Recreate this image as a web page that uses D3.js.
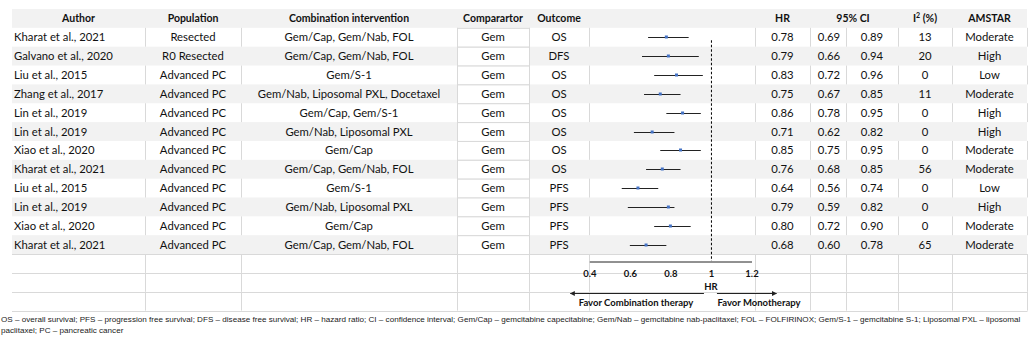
<!DOCTYPE html>
<html>
<head>
<meta charset="utf-8">
<script src="https://cdn.jsdelivr.net/npm/d3@7"></script>
<style>
  body { margin: 0; background: #fff; }
  svg { display: block; }
</style>
</head>
<body>
<script>
// Forest plot table: combination therapy vs gemcitabine monotherapy

const authors = ["Kharat et al., 2021", "Galvano et al., 2020", "Liu et al., 2015", "Zhang et al., 2017",
  "Lin et al., 2019", "Lin et al., 2019", "Xiao et al., 2020", "Kharat et al., 2021",
  "Liu et al., 2015", "Lin et al., 2019", "Xiao et al., 2020", "Kharat et al., 2021"];
const populations = ["Resected", "R0 Resected", "Advanced PC", "Advanced PC", "Advanced PC", "Advanced PC",
  "Advanced PC", "Advanced PC", "Advanced PC", "Advanced PC", "Advanced PC", "Advanced PC"];
const interventions = ["Gem/Cap, Gem/Nab, FOL", "Gem/Cap, Gem/Nab, FOL", "Gem/S-1", "Gem/Nab, Liposomal PXL, Docetaxel",
  "Gem/Cap, Gem/S-1", "Gem/Nab, Liposomal PXL", "Gem/Cap", "Gem/Cap, Gem/Nab, FOL",
  "Gem/S-1", "Gem/Nab, Liposomal PXL", "Gem/Cap", "Gem/Cap, Gem/Nab, FOL"];
const comparators = ["Gem", "Gem", "Gem", "Gem", "Gem", "Gem", "Gem", "Gem", "Gem", "Gem", "Gem", "Gem"];
const outcomes = ["OS", "DFS", "OS", "OS", "OS", "OS", "OS", "OS", "PFS", "PFS", "PFS", "PFS"];
const hr = [0.78, 0.79, 0.83, 0.75, 0.86, 0.71, 0.85, 0.76, 0.64, 0.79, 0.80, 0.68];
const ciLow = [0.69, 0.66, 0.72, 0.67, 0.78, 0.62, 0.75, 0.68, 0.56, 0.59, 0.72, 0.60];
const ciHigh = [0.89, 0.94, 0.96, 0.85, 0.95, 0.82, 0.95, 0.85, 0.74, 0.82, 0.90, 0.78];
const i2 = [13, 20, 0, 11, 0, 0, 0, 56, 0, 0, 0, 65];
const amstar = ["Moderate", "High", "Low", "Moderate", "High", "High", "Moderate", "Moderate",
  "Low", "High", "Moderate", "Moderate"];
const hrTicks = [0.4, 0.6, 0.8, 1, 1.2];

const footnote = [
  "OS \u2013 overall survival; PFS \u2013 progression free survival; DFS \u2013 disease free survival; HR \u2013 hazard ratio; CI \u2013 confidence interval; Gem/Cap \u2013 gemcitabine capecitabine; Gem/Nab \u2013 gemcitabine nab-paclitaxel; FOL \u2013 FOLFIRINOX; Gem/S-1 \u2013 gemcitabine S-1; Liposomal PXL \u2013 liposomal",
  "paclitaxel; PC \u2013 pancreatic cancer"
];

const W = 1034, H = 338;
const FONT = "Lato, 'Open Sans', sans-serif";
const grey = "#f2f2f2", grid = "#d9d9d9", ink = "#111";

// column edges
const edges = [12, 145, 241, 457, 529, 589, 755, 810, 846, 898, 952, 1027];
const mid = i => (edges[i] + edges[i + 1]) / 2;

const svg = d3.select("body").append("svg")
  .attr("width", W).attr("height", H)
  .style("font-family", FONT);

// header + 12 data rows + 3 rows for the axis
const rows = d3.range(16);
const y = d3.scaleBand().domain(rows).range([9, 9 + 16 * 18.85]).padding(0);
const rowMid = r => y(r) + y.bandwidth() / 2;

const x = d3.scaleLinear().domain([0.4, 1.2]).range([edges[5] + 0.3, 751.5]);

const isGrey = r => r === 0 || (r >= 1 && r <= 12 && r % 2 === 0);

// row backgrounds
svg.append("g").selectAll("rect")
  .data(rows.filter(isGrey))
  .join("rect")
    .attr("x", edges[0]).attr("y", d => y(d))
    .attr("width", edges[edges.length - 1] - edges[0]).attr("height", y.bandwidth())
    .attr("fill", grey);

// gridlines in white rows
const gridG = svg.append("g").attr("stroke", grid).attr("stroke-width", 1);
rows.filter(r => !isGrey(r)).forEach(r => {
  gridG.selectAll(null)
    .data(edges.slice(1))
    .join("line")
      .attr("x1", d => d + 0.5).attr("x2", d => d + 0.5)
      .attr("y1", y(r)).attr("y2", y(r) + y.bandwidth());
});
[13, 14, 15, 16].forEach(r => {
  const yy = Math.round(y(r) || y(15) + y.bandwidth()) + 0.5;
  gridG.append("line")
    .attr("x1", edges[0]).attr("x2", edges[edges.length - 1] + 0.5)
    .attr("y1", yy).attr("y2", yy);
});

// comparator column stays white with borders
const dataRows = d3.range(1, 13);
svg.append("g").selectAll("rect")
  .data(dataRows)
  .join("rect")
    .attr("x", edges[3] + 0.5).attr("y", d => y(d) + 0.5)
    .attr("width", edges[4] - edges[3]).attr("height", y.bandwidth())
    .attr("fill", "#fff").attr("stroke", grid);

// header labels
const headers = [
  { t: "Author", x: mid(0) }, { t: "Population", x: mid(1) },
  { t: "Combination intervention", x: mid(2) }, { t: "Comparartor", x: mid(3) },
  { t: "Outcome", x: mid(4) }, { t: "HR", x: mid(6) },
  { t: "95% CI", x: edges[8] + 7 }, { t: "AMSTAR", x: mid(10) }
];
const head = svg.append("g")
  .attr("font-size", 10.5).attr("font-weight", "bold").attr("fill", ink)
  .attr("text-anchor", "middle");
head.selectAll("text").data(headers).join("text")
  .attr("x", d => d.x).attr("y", rowMid(0) + 4).text(d => d.t);
const i2Head = head.append("text").attr("x", mid(9)).attr("y", rowMid(0) + 4);
i2Head.append("tspan").text("I");
i2Head.append("tspan").attr("font-size", 7).attr("dy", -4).text("2");
i2Head.append("tspan").attr("dy", 4).text(" (%)");

// body cells
const fmt = d3.format(".2f");
const cols = [
  { v: authors, x: edges[0] + 2, a: "start" },
  { v: populations, x: mid(1), a: "middle" },
  { v: interventions, x: mid(2), a: "middle" },
  { v: comparators, x: mid(3), a: "middle" },
  { v: outcomes, x: mid(4), a: "middle" },
  { v: hr.map(fmt), x: mid(6), a: "middle" },
  { v: ciLow.map(fmt), x: mid(7) + 1, a: "middle" },
  { v: ciHigh.map(fmt), x: mid(8), a: "middle" },
  { v: i2, x: mid(9), a: "middle" },
  { v: amstar, x: mid(10), a: "middle" }
];
const body = svg.append("g").attr("font-size", 11.3).attr("fill", ink);
cols.forEach(c => {
  body.append("g").attr("text-anchor", c.a)
    .selectAll("text").data(c.v).join("text")
      .attr("x", c.x).attr("y", (d, i) => rowMid(i + 1) + 4)
      .text(d => d);
});

// forest plot
const plot = svg.append("g");
plot.append("line")
  .attr("x1", x(1) + 0.5).attr("x2", x(1) + 0.5)
  .attr("y1", rowMid(1) + 3).attr("y2", y(13) + 7)
  .attr("stroke", "#000").attr("stroke-dasharray", "2.5,2");

plot.selectAll(".ci").data(hr).join("line")
  .attr("class", "ci")
  .attr("x1", (d, i) => x(ciLow[i])).attr("x2", (d, i) => x(ciHigh[i]))
  .attr("y1", (d, i) => Math.round(rowMid(i + 1)) + 0.5)
  .attr("y2", (d, i) => Math.round(rowMid(i + 1)) + 0.5)
  .attr("stroke", "#222").attr("stroke-width", 1);

plot.selectAll(".pt").data(hr).join("rect")
  .attr("class", "pt")
  .attr("x", d => x(d) - 1.5).attr("y", (d, i) => Math.round(rowMid(i + 1)) - 1.5)
  .attr("width", 3).attr("height", 3)
  .attr("fill", "#4472c4");

// HR axis
const axisY = Math.round(y(13) + 7) + 0.5;
const axis = plot.append("g")
  .attr("transform", `translate(0,${axisY})`)
  .call(d3.axisBottom(x).tickValues(hrTicks).tickSize(0).tickSizeOuter(0)
    .tickPadding(9).tickFormat(d => String(d)));
axis.select(".domain").attr("stroke", "#222");
axis.selectAll("text")
  .attr("font-family", FONT).attr("font-size", 9.5).attr("font-weight", "bold").attr("fill", ink);

const ann = plot.append("g")
  .attr("font-size", 9.5).attr("font-weight", "bold").attr("fill", ink).attr("text-anchor", "middle");
ann.append("text").attr("x", x(1)).attr("y", 290).text("HR");
ann.append("text").attr("x", 636).attr("y", 306).text("Favor Combination therapy");
ann.append("text").attr("x", 759).attr("y", 306).text("Favor Monotherapy");

// direction arrows
const arrowY = 293.5;
svg.append("defs").append("marker")
  .attr("id", "head").attr("viewBox", "0 0 10 10").attr("refX", 9).attr("refY", 5)
  .attr("markerWidth", 5).attr("markerHeight", 5).attr("orient", "auto-start-reverse")
  .append("path").attr("d", "M0,0L10,5L0,10Z").attr("fill", "#222");
plot.append("line")
  .attr("x1", x(1) - 7).attr("x2", x(0.4) - 19)
  .attr("y1", arrowY).attr("y2", arrowY)
  .attr("stroke", "#222").attr("marker-end", "url(#head)");
plot.append("line")
  .attr("x1", x(1) + 6).attr("x2", x(1.2) + 25)
  .attr("y1", arrowY).attr("y2", arrowY)
  .attr("stroke", "#222").attr("marker-end", "url(#head)");

// abbreviations
svg.append("g")
  .attr("font-family", "'Liberation Sans', Arial, sans-serif")
  .attr("font-size", 8.1).attr("fill", "#222")
  .selectAll("text").data(footnote).join("text")
    .attr("x", 1).attr("y", (d, i) => 322 + i * 11)
    .text(d => d);
</script>
</body>
</html>
